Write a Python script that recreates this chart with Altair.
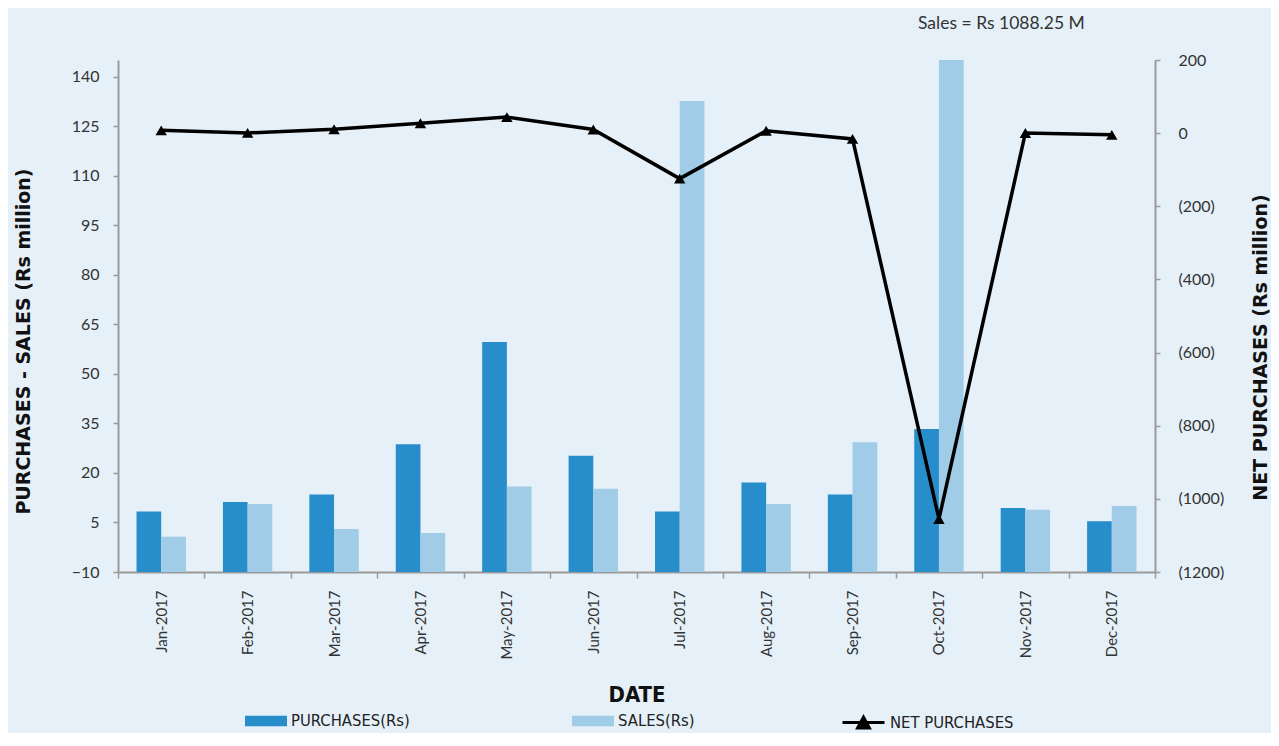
import altair as alt
import pandas as pd

months = ["Jan-2017", "Feb-2017", "Mar-2017", "Apr-2017", "May-2017", "Jun-2017",
          "Jul-2017", "Aug-2017", "Sep-2017", "Oct-2017", "Nov-2017", "Dec-2017"]
purchases = [8.3, 11.2, 13.5, 28.7, 59.7, 25.2, 8.3, 17.1, 13.5, 33.3, 9.4, 5.4]
sales = [0.7, 10.6, 3.0, 1.8, 15.9, 15.2, 132.7, 10.6, 29.3, 1088.25, 8.9, 10.0]
net_purchases = [7.6, 0.6, 10.5, 26.9, 43.8, 10.0, -124.4, 6.5, -15.8, -1054.95, 0.5, -4.6]
left_ticks = [-10, 5, 20, 35, 50, 65, 80, 95, 110, 125, 140]
right_ticks = [200, 0, -200, -400, -600, -800, -1000, -1200]

P_LABEL = "PURCHASES(Rs)"
S_LABEL = "SALES(Rs)"
N_LABEL = "NET PURCHASES"

bars_df = pd.DataFrame({
    "month": months * 2,
    "series": [P_LABEL] * len(months) + [S_LABEL] * len(months),
    "value": purchases + sales,
})
net_df = pd.DataFrame({"month": months, "net": net_purchases, "label": [N_LABEL] * len(months)})

FONT = "Lato"
TITLE_FONT = "DejaVu Sans"
LEG_FONT = "Liberation Sans Narrow, DejaVu Sans Condensed, sans-serif"
AX = "#9a9a9a"

x_enc = alt.X(
    "month:N", sort=months,
    scale=alt.Scale(paddingInner=0, paddingOuter=0),
    axis=alt.Axis(
        title="DATE", labelAngle=270, labelAlign="right", labelBaseline="middle",
        labelPadding=12, tickBand="extent", tickSize=6, labelFont=FONT, labelFontSize=15,
        labelColor="#333", titleFont=LEG_FONT, titleFontSize=22, titleFontWeight="bold",
        titleColor="#111", titleY=122, titleBaseline="middle",
    ),
)
xoff_enc = alt.XOffset(
    "series:N",
    scale=alt.Scale(domain=[P_LABEL, S_LABEL], paddingInner=0, paddingOuter=0.75),
)
y_left = alt.Y(
    "value:Q",
    scale=alt.Scale(domain=[-10, 145.15], nice=False, zero=False),
    axis=alt.Axis(
        values=left_ticks, title="PURCHASES - SALES (Rs million)", grid=False,
        labelFont=FONT, labelFontSize=16, labelColor="#333", labelPadding=14, tickSize=5,
        titleFont=TITLE_FONT, titleFontSize=19, titleFontWeight="bold", titleColor="#111",
        titleAngle=270, titleX=-95, titleY=281, titleAlign="center", titleBaseline="middle",
    ),
)
y_right = alt.Y(
    "net:Q",
    scale=alt.Scale(domain=[-1200, 200], nice=False, zero=False),
    axis=alt.Axis(
        orient="right", values=right_ticks, title="NET PURCHASES (Rs million)", grid=False,
        labelExpr="datum.value < 0 ? '(' + format(-datum.value, 'd') + ')' : format(datum.value, 'd')",
        labelFont=FONT, labelFontSize=16, labelColor="#333", labelPadding=18, tickSize=5,
        titleFont=TITLE_FONT, titleFontSize=19, titleFontWeight="bold", titleColor="#111",
        titleAngle=270, titleX=105, titleY=287, titleAlign="center", titleBaseline="middle",
    ),
)

rect_path = "M-1,-0.25H1V0.25H-1Z"
line_path = "M-1,0H1M-0.28,0.26L0,-0.26L0.28,0.26Z"


def leg(x, path, stroke_w=0, fill=None):
    kw = dict(
        title=None, orient="none", legendX=x, legendY=640, direction="horizontal",
        symbolType=path, symbolSize=1764, symbolStrokeWidth=stroke_w,
        labelFont=LEG_FONT, labelFontSize=16.5, labelColor="#222", labelOffset=4, padding=0,
    )
    if fill:
        kw["symbolFillColor"] = fill
    return alt.Legend(**kw)


b1 = alt.Chart(bars_df).transform_filter(alt.datum.series == P_LABEL).mark_bar(clip=True).encode(
    x=x_enc, xOffset=xoff_enc, y=y_left, y2=alt.datum(-10),
    color=alt.Color("series:N", scale=alt.Scale(domain=[P_LABEL], range=["#278dcb"]),
                    legend=leg(127, rect_path)),
)
b2 = alt.Chart(bars_df).transform_filter(alt.datum.series == S_LABEL).mark_bar(clip=True).encode(
    x=x_enc, xOffset=xoff_enc, y=y_left, y2=alt.datum(-10),
    fill=alt.Fill("series:N", scale=alt.Scale(domain=[S_LABEL], range=["#a0cce7"]),
                  legend=leg(454, rect_path)),
)
bars = alt.layer(b1, b2)

ln = alt.Chart(net_df).mark_line(strokeWidth=3.5).encode(
    x=x_enc, y=y_right,
    stroke=alt.Stroke("label:N", scale=alt.Scale(domain=[N_LABEL], range=["#000000"]),
                      legend=leg(723, line_path, 3, "#000000")),
)
pts = alt.Chart(net_df).mark_point(shape="triangle-up", filled=True, color="#000000", size=130, opacity=1).encode(
    x=x_enc, y=y_right,
)
line = alt.layer(ln, pts)

chart = alt.layer(bars, line).resolve_scale(y="independent").properties(
    width=1037, height=512,
    autosize=alt.AutoSizeParams(type="none"),
    padding={"left": 110, "top": 52, "right": 116, "bottom": 161},
    background="#e5f0f8",
    title=alt.TitleParams(
        "Sales = Rs 1088.25 M", anchor="start", frame="group", dx=800, offset=20,
        font=FONT, fontSize=17.5, fontWeight="normal", color="#333",
    ),
).configure_view(stroke=None).configure_axis(
    domainColor=AX, tickColor=AX, domainWidth=2, tickWidth=1.5,
)

chart.save("out.html", embed_options={"renderer": "svg", "actions": False})
